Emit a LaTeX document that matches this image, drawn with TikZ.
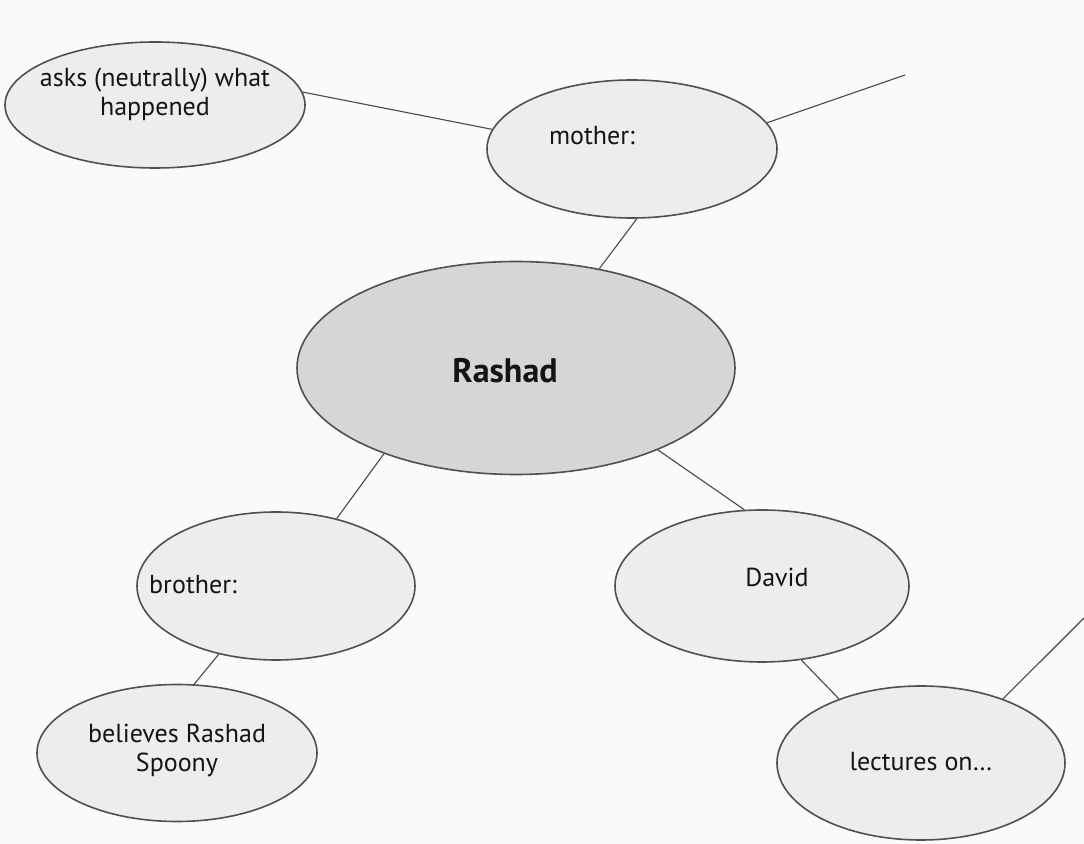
\documentclass[tikz,border=0pt]{standalone}
\usepackage{fontspec}
\setmainfont{PT Sans}
\usetikzlibrary{shapes.geometric}
\definecolor{paper}{HTML}{FAFAFA}
\definecolor{bubble}{HTML}{EDEDED}
\definecolor{hub}{HTML}{D6D6D6}
\definecolor{rim}{HTML}{505050}
\begin{document}
\begin{tikzpicture}[x=0.5pt, y=-0.5pt,
        bubble/.style={ellipse, draw=rim, line width=0.8pt, fill=bubble, inner sep=0pt},
        link/.style={draw=rim!90!black, line width=0.55pt},
        words/.style={font=\fontsize{13}{14.5}\selectfont, align=center, text=black!92}]
    \fill[paper] (0,0) rectangle (1084,844);
    \useasboundingbox (0,0) rectangle (1084,844);

    \node[bubble, minimum width=150pt, minimum height=63pt] (asks) at (155,105) {};
    \node[bubble, minimum width=145pt, minimum height=69pt] (mother) at (632,149) {};
    \node[bubble, fill=hub, minimum width=219pt, minimum height=106.5pt] (rashad) at (516,368) {};
    \node[bubble, minimum width=139pt, minimum height=74pt] (brother) at (276,586) {};
    \node[bubble, minimum width=147pt, minimum height=76pt] (david) at (762,586) {};
    \node[bubble, minimum width=140pt, minimum height=68.5pt] (believes) at (177,753) {};
    \node[bubble, minimum width=144pt, minimum height=77pt] (lectures) at (921,763) {};

    \node[words] (asksText) at (155,94) {asks (neutrally) what\\happened};
    \node[words] (motherText) at (592,136) {mother:};
    \node[words, font=\fontsize{17}{18}\selectfont\bfseries] (rashadText) at (505,371) {Rashad};
    \node[words] (brotherText) at (193,585) {brother:};
    \node[words] (davidText) at (777,577) {David};
    \node[words] (believesText) at (177,750) {believes Rashad\\Spoony};
    \node[words] (lecturesText) at (921,762) {lectures on…};

    \coordinate (motherEnd) at (905,75);
    \coordinate (lecturesEnd) at (1084,618);

    \draw[link] (asks.5.8) -- (mother.172.4);
    \draw[link] (mother.11.3) -- (motherEnd);
    \draw[link] (mother.-86) -- (rashad.50);
    \draw[link] (rashad.213.6) -- (brother.48);
    \draw[link] (rashad.-30.4) -- (david.103);
    \draw[link] (brother.-130.8) -- (believes.76.6);
    \draw[link] (david.-62.8) -- (lectures.142.8);
    \draw[link] (lectures.38.8) -- (lecturesEnd);
\end{tikzpicture}
\end{document}
